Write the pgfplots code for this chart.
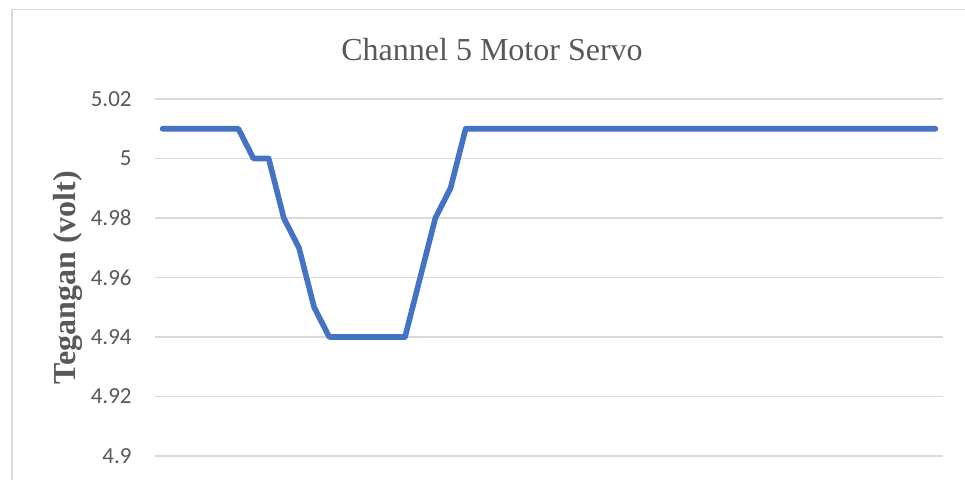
\documentclass[border=0pt]{standalone}
\usepackage{pgfplots}
\pgfplotsset{compat=1.18}
\usepackage{pgfplotstable}
\usepackage{fontspec}
\setmainfont{Liberation Serif}
\newfontfamily\carlito{Carlito}
\definecolor{linecol}{HTML}{4472C4}
\definecolor{gridcol}{HTML}{D9D9D9}
\definecolor{txtcol}{HTML}{595959}

\pgfplotstableread{
x y
1 5.01
2 5.01
3 5.01
4 5.01
5 5.01
6 5.01
7 5.00
8 5.00
9 4.98
10 4.97
11 4.95
12 4.94
13 4.94
14 4.94
15 4.94
16 4.94
17 4.94
18 4.96
19 4.98
20 4.99
21 5.01
22 5.01
23 5.01
24 5.01
25 5.01
26 5.01
27 5.01
28 5.01
29 5.01
30 5.01
31 5.01
32 5.01
33 5.01
34 5.01
35 5.01
36 5.01
37 5.01
38 5.01
39 5.01
40 5.01
41 5.01
42 5.01
43 5.01
44 5.01
45 5.01
46 5.01
47 5.01
48 5.01
49 5.01
50 5.01
51 5.01
52 5.01
}\servodata

\begin{document}
\begin{tikzpicture}[x=0.5pt,y=0.5pt]
\useasboundingbox (0,0) rectangle (965,479);
\clip (0,0) rectangle (965,479);
\fill[white] (0,0) rectangle (965,479);
\draw[gridcol, line width=0.8pt] (12,-10) -- (12,469.5) -- (980,469.5);
\begin{axis}[
  at={(77.5pt,11.5pt)}, anchor=south west,
  scale only axis, width=394pt, height=178.5pt,
  xmin=0.5, xmax=52.5, ymin=4.9, ymax=5.02,
  xtick=\empty,
  ytick={4.9,4.92,4.94,4.96,4.98,5,5.02},
  yticklabels={4.9,4.92,4.94,4.96,4.98,5,5.02},
  major tick length=0pt,
  axis line style={draw=none},
  ymajorgrids,
  grid style={gridcol, line width=0.7pt},
  yticklabel style={font=\carlito\fontsize{11.5}{13}\selectfont, text=txtcol, inner sep=0pt, anchor=east, xshift=-11.5pt},
  title={Channel 5 Motor Servo},
  title style={at={(axis description cs:0.4277,1.1092)}, anchor=base, yshift=-6pt, font=\fontsize{16}{19}\selectfont, text=txtcol, inner sep=0pt},
  ylabel={Tegangan (volt)},
  ylabel style={at={(axis description cs:-0.1003,0.5)}, anchor=base, rotate=0, font=\bfseries\fontsize{16}{19}\selectfont, text=txtcol, inner sep=0pt},
  clip=false,
]
\addplot[linecol, line width=2.8pt, line cap=round, line join=round] table[x=x,y=y] {\servodata};
\end{axis}
\end{tikzpicture}
\end{document}
